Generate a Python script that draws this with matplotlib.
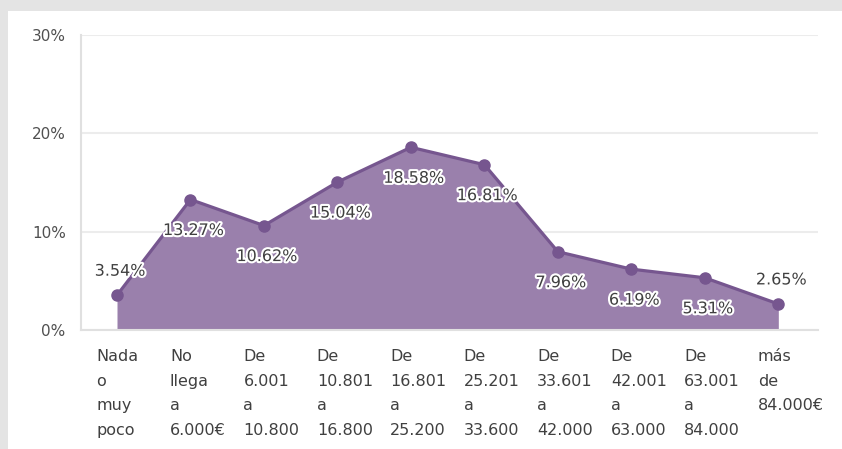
import numpy as np
import matplotlib.pyplot as plt
import matplotlib.patheffects as pe
from matplotlib.patches import Rectangle
from matplotlib.transforms import blended_transform_factory

categories = [
    "Nada\no\nmuy\npoco",
    "No\nllega\na\n6.000€",
    "De\n6.001\na\n10.800",
    "De\n10.801\na\n16.800",
    "De\n16.801\na\n25.200",
    "De\n25.201\na\n33.600",
    "De\n33.601\na\n42.000",
    "De\n42.001\na\n63.000",
    "De\n63.001\na\n84.000",
    "más\nde\n84.000€",
]
values = [3.54, 13.27, 10.62, 15.04, 18.58, 16.81, 7.96, 6.19, 5.31, 2.65]
y_ticks = [0, 10, 20, 30]
y_tick_labels = ["0%", "10%", "20%", "30%"]

fill_color = "#9a80ac"
line_color = "#76568f"
text_color = "#404040"

fig = plt.figure(figsize=(8.42, 4.49), dpi=100, facecolor="#e4e4e4")
# white panel behind the chart
fig.patches.append(Rectangle((8 / 842, 0), 1, (449 - 11) / 449,
                             transform=fig.transFigure, facecolor="white",
                             edgecolor="none", zorder=-5))

ax = fig.add_axes([81 / 842, (449 - 330) / 449, (818 - 81) / 842, (330 - 35) / 449])
ax.set_facecolor("none")

x = np.arange(len(values))
ax.fill_between(x, values, 0, color=fill_color, zorder=2, linewidth=0)
ax.plot(x, values, color=line_color, linewidth=2.3, marker="o", markersize=8,
        zorder=3)

# data labels: first and last above, the rest below
for i, v in enumerate(values):
    dy = 24 if i in (0, len(values) - 1) else -31
    ax.annotate(f"{v:.2f}%", (i, v), xytext=(3, dy), textcoords="offset pixels",
                ha="center", va="center", fontsize=11.5, color=text_color, zorder=4,
                path_effects=[pe.withStroke(linewidth=3, foreground="white")])

ax.set_xlim(-0.49, len(values) - 0.46)
ax.set_ylim(0, 30)
ax.set_yticks(y_ticks)
ax.set_yticklabels(y_tick_labels, fontsize=11, color="#505050")
ax.tick_params(axis="y", length=0, pad=11)
ax.set_xticks([])
ax.grid(axis="y", color="#ececec", linewidth=1.5, zorder=1)
ax.set_axisbelow(True)

for side in ["top", "right"]:
    ax.spines[side].set_visible(False)
ax.spines["left"].set_color("#e0e0e0")
ax.spines["left"].set_linewidth(1.5)
ax.spines["bottom"].set_color("#e0e0e0")
ax.spines["bottom"].set_linewidth(1.5)

# multi-line category labels, left aligned under each point
trans = blended_transform_factory(ax.transData, ax.transAxes)
for i, lab in enumerate(categories):
    ax.text(i - 0.28, -0.066, lab, transform=trans, ha="left", va="top",
            fontsize=11.5, color=text_color, linespacing=1.79)

fig.savefig("out.png", dpi=100, facecolor=fig.get_facecolor())
